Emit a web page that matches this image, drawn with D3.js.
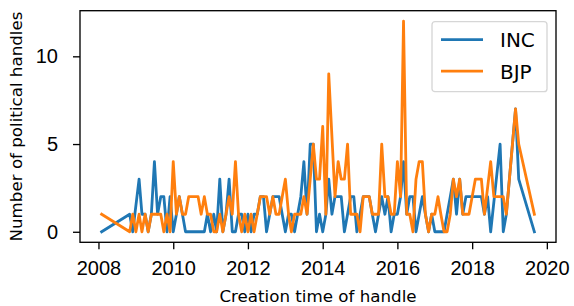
<!DOCTYPE html>
<html>
<head>
<meta charset="utf-8">
<script src="https://cdn.jsdelivr.net/npm/d3@7"></script>
<style>
	body { margin: 0; background: #fff; }
	svg { display: block; font-family: "DejaVu Sans", sans-serif; }
	.tick line { stroke: #000; stroke-width: 1.33; }
	.tick text { font-size: 20px; fill: #000; }
	.series { fill: none; stroke-width: 2.8; stroke-linejoin: round; stroke-linecap: square; }
	.label { font-size: 16.7px; fill: #000; }
	.legend text { font-size: 20px; fill: #000; }
</style>
</head>
<body>
<div id="chart"></div>
<script>
	// monthly counts of new handles
	const incCounts = [
		["2008-02", 0], ["2008-11", 1], ["2008-12", 0], ["2009-02", 3], ["2009-03", 1], ["2009-04", 1],
		["2009-05", 0], ["2009-06", 1], ["2009-07", 4], ["2009-08", 1], ["2009-09", 2], ["2009-10", 2],
		["2009-11", 0], ["2009-12", 2], ["2010-01", 0], ["2010-02", 1], ["2010-03", 2], ["2010-04", 1],
		["2010-05", 0], ["2010-06", 0], ["2010-07", 0], ["2010-08", 0], ["2010-09", 0], ["2010-10", 0],
		["2010-11", 0], ["2010-12", 1], ["2011-01", 0], ["2011-02", 1], ["2011-03", 0], ["2011-04", 3],
		["2011-05", 0], ["2011-06", 1], ["2011-07", 3], ["2011-08", 0], ["2011-09", 0], ["2011-10", 1],
		["2011-11", 1], ["2011-12", 0], ["2012-01", 1], ["2012-02", 0], ["2012-03", 1], ["2012-04", 1],
		["2012-05", 2], ["2012-06", 2], ["2012-07", 0], ["2012-08", 1], ["2012-09", 2], ["2012-10", 2],
		["2012-11", 2], ["2012-12", 1], ["2013-01", 0], ["2013-02", 1], ["2013-03", 1], ["2013-04", 0],
		["2013-05", 1], ["2013-06", 2], ["2013-07", 4], ["2013-08", 1], ["2013-09", 5], ["2013-10", 5],
		["2013-11", 0], ["2013-12", 1], ["2014-01", 0], ["2014-02", 1], ["2014-03", 3], ["2014-04", 1],
		["2014-05", 2], ["2014-06", 2], ["2014-07", 2], ["2014-08", 0], ["2014-09", 1], ["2014-10", 2],
		["2014-11", 2], ["2014-12", 0], ["2015-01", 1], ["2015-02", 2], ["2015-03", 2], ["2015-04", 2],
		["2015-05", 1], ["2015-06", 0], ["2015-07", 1], ["2015-08", 2], ["2015-09", 1], ["2015-10", 2],
		["2015-11", 0], ["2015-12", 1], ["2016-01", 1], ["2016-02", 2], ["2016-03", 4], ["2016-04", 1],
		["2016-05", 2], ["2016-06", 2], ["2016-07", 0], ["2016-08", 1], ["2016-09", 2], ["2016-10", 1],
		["2016-11", 0], ["2016-12", 1], ["2017-01", 0], ["2017-02", 0], ["2017-03", 0], ["2017-04", 0],
		["2017-05", 1], ["2017-06", 2], ["2017-07", 3], ["2017-08", 1], ["2017-09", 3], ["2017-10", 1],
		["2017-11", 2], ["2017-12", 2], ["2018-01", 2], ["2018-02", 2], ["2018-03", 2], ["2018-04", 2],
		["2018-05", 1], ["2018-06", 2], ["2018-07", 0], ["2018-10", 5], ["2018-11", 0], ["2018-12", 1],
		["2019-03", 7], ["2019-04", 3], ["2019-09", 0]
	];

	const bjpCounts = [
		["2008-02", 1], ["2008-11", 0], ["2008-12", 1], ["2009-01", 0], ["2009-02", 1], ["2009-03", 0],
		["2009-04", 1], ["2009-05", 0], ["2009-06", 1], ["2009-07", 1], ["2009-08", 1], ["2009-09", 1],
		["2009-10", 0], ["2009-11", 1], ["2009-12", 0], ["2010-01", 4], ["2010-02", 1], ["2010-03", 2],
		["2010-04", 1], ["2010-05", 1], ["2010-06", 2], ["2010-07", 2], ["2010-08", 2], ["2010-09", 2],
		["2010-10", 1], ["2010-11", 2], ["2010-12", 1], ["2011-01", 1], ["2011-02", 0], ["2011-03", 0],
		["2011-04", 1], ["2011-05", 0], ["2011-06", 1], ["2011-07", 2], ["2011-08", 1], ["2011-09", 4],
		["2011-10", 1], ["2011-11", 0], ["2011-12", 1], ["2012-01", 0], ["2012-02", 1], ["2012-03", 0],
		["2012-04", 1], ["2012-05", 2], ["2012-06", 2], ["2012-07", 2], ["2012-08", 1], ["2012-09", 2],
		["2012-10", 1], ["2012-11", 1], ["2012-12", 2], ["2013-01", 3], ["2013-02", 1], ["2013-03", 0],
		["2013-04", 1], ["2013-05", 1], ["2013-06", 1], ["2013-07", 2], ["2013-08", 1], ["2013-09", 3],
		["2013-10", 5], ["2013-11", 3], ["2013-12", 3], ["2014-01", 6], ["2014-02", 1], ["2014-03", 9],
		["2014-05", 2], ["2014-06", 4], ["2014-07", 3], ["2014-08", 3], ["2014-09", 5], ["2014-10", 1],
		["2014-11", 1], ["2014-12", 1], ["2015-01", 0], ["2015-02", 2], ["2015-03", 2], ["2015-04", 2],
		["2015-05", 1], ["2015-06", 1], ["2015-07", 1], ["2015-08", 5], ["2015-09", 2], ["2015-10", 2],
		["2015-11", 1], ["2015-12", 1], ["2016-01", 4], ["2016-02", 2], ["2016-03", 12], ["2016-04", 1],
		["2016-05", 1], ["2016-06", 0], ["2016-07", 3], ["2016-08", 4], ["2016-09", 4], ["2016-10", 1],
		["2016-11", 0], ["2016-12", 1], ["2017-01", 1], ["2017-02", 2], ["2017-03", 1], ["2017-04", 0],
		["2017-05", 0], ["2017-06", 1], ["2017-07", 3], ["2017-08", 2], ["2017-09", 3], ["2017-10", 1],
		["2017-11", 1], ["2017-12", 1], ["2018-01", 2], ["2018-02", 3], ["2018-03", 3], ["2018-04", 3],
		["2018-05", 1], ["2018-07", 4], ["2018-08", 2], ["2018-09", 2], ["2018-10", 2], ["2018-11", 2],
		["2018-12", 1], ["2019-03", 7], ["2019-04", 5], ["2019-09", 1]
	];

	const seriesNames = ["INC", "BJP"];
	const seriesColors = ["#1f77b4", "#ff7f0e"];
	const xTickYears = [2008, 2010, 2012, 2014, 2016, 2018, 2020];
	const yTicks = [0, 5, 10];

	const width = 574;
	const height = 306;
	const margin = { top: 10.7, right: 18, bottom: 63.7, left: 80 };
	const tickSize = 7;

	const parseMonth = d3.timeParse("%Y-%m");
	const series = [incCounts, bjpCounts].map((rows, i) => ({
		name: seriesNames[i],
		color: seriesColors[i],
		values: rows.map(([m, v]) => ({ date: parseMonth(m), value: v }))
	}));

	// matplotlib style 5% padding around the data
	const all = series.flatMap((s) => s.values);
	const [t0, t1] = d3.extent(all, (d) => d.date);
	const padT = (t1 - t0) * 0.05;
	const yMax = d3.max(all, (d) => d.value);

	const x = d3.scaleTime()
				.domain([new Date(+t0 - padT), new Date(+t1 + padT)])
				.range([margin.left, width - margin.right]);

	const y = d3.scaleLinear()
				.domain([-yMax * 0.05, yMax * 1.05])
				.range([height - margin.bottom, margin.top]);

	const svg = d3.select("#chart")
				.append("svg")
					.attr("width", width)
					.attr("height", height);

	svg.append("g")
		.attr("transform", `translate(0, ${height - margin.bottom})`)
		.call(d3.axisBottom(x)
				.tickValues(xTickYears.map((yr) => new Date(yr, 0, 1)))
				.tickFormat(d3.timeFormat("%Y"))
				.tickSize(tickSize)
				.tickPadding(11.5))
		.call((g) => g.select(".domain").remove());

	svg.append("g")
		.attr("transform", `translate(${margin.left}, 0)`)
		.call(d3.axisLeft(y)
				.tickValues(yTicks)
				.tickSize(tickSize)
				.tickPadding(15))
		.call((g) => g.select(".domain").remove());

	svg.selectAll(".tick text").attr("font-family", null).attr("font-size", null);

	const line = d3.line()
					.x((d) => x(d.date))
					.y((d) => y(d.value));

	svg.append("g")
		.selectAll("path")
			.data(series).enter()
		.append("path")
			.attr("class", "series")
			.attr("stroke", (d) => d.color)
			.attr("d", (d) => line(d.values));

	// frame (all four spines)
	svg.append("rect")
		.attr("x", margin.left)
		.attr("y", margin.top)
		.attr("width", width - margin.left - margin.right)
		.attr("height", height - margin.top - margin.bottom)
		.attr("fill", "none")
		.attr("stroke", "#000")
		.attr("stroke-width", 1.33);

	svg.append("text")
		.attr("class", "label")
		.attr("text-anchor", "middle")
		.attr("x", (margin.left + width - margin.right) / 2)
		.attr("y", 301.5)
		.text("Creation time of handle");

	svg.append("text")
		.attr("class", "label")
		.attr("text-anchor", "middle")
		.attr("transform", `translate(22, ${(margin.top + height - margin.bottom) / 2})rotate(-90)`)
		.text("Number of political handles");

	const legend = svg.append("g")
						.attr("class", "legend")
						.attr("transform", "translate(432, 21.7)");

	legend.append("rect")
		.attr("width", 115)
		.attr("height", 70)
		.attr("rx", 3)
		.attr("fill", "#fff")
		.attr("fill-opacity", 0.8)
		.attr("stroke", "#ccc")
		.attr("stroke-opacity", 0.8)
		.attr("stroke-width", 1.33);

	const items = legend
					.selectAll(".item")
						.data(series).enter()
					.append("g")
						.attr("class", "item")
						.attr("transform", (d, i) => `translate(0, ${18 + i * 31.5})`);

	items.append("line")
		.attr("x1", 9)
		.attr("x2", 51)
		.attr("stroke", (d) => d.color)
		.attr("stroke-width", 2.8);

	items.append("text")
		.attr("x", 68)
		.attr("y", 7.3)
		.text((d) => d.name);
</script>
</body>
</html>
